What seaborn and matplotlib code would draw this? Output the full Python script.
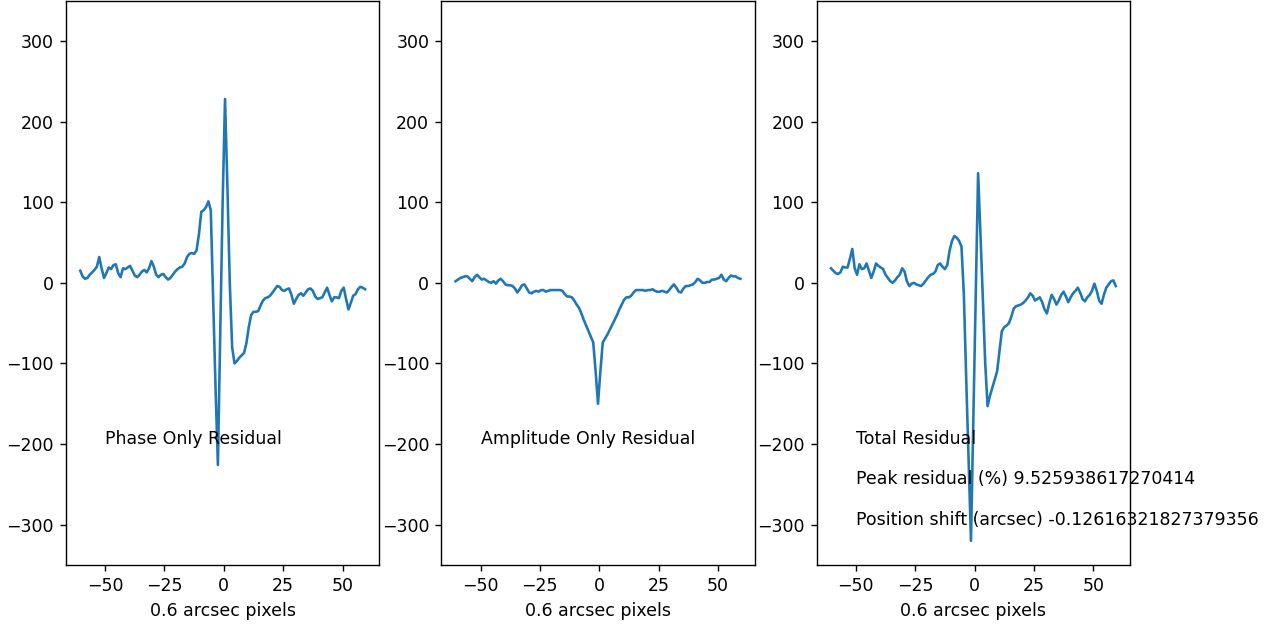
import numpy as np
import pandas as pd
import matplotlib
matplotlib.use("Agg")
import matplotlib.pyplot as plt
import seaborn as sns

# ---- data ----
pixels = list(np.arange(-60.5, 60.0, 1.0))   # 121 pixel centres

phase_residual = [
    15, 8, 5, 6, 10, 13, 16, 20, 32, 18,          # -60.5..-51.5
    6, 12, 19, 17, 22, 23, 12, 7, 18, 17,
    19, 21, 15, 9, 7, 10, 14, 16, 13, 18,
    27, 20, 10, 7, 10, 11, 7, 4, 6, 10,
    14, 17, 19, 20, 24, 32, 36, 37, 36, 40,
    60, 88, 90, 94, 101, 90, -20, -130, -226, -60,   # -10.5..-1.5
    100, 228, 120, 0, -80, -100, -97, -93, -90, -87, # -0.5..8.5
    -75, -55, -40, -36, -36, -35, -28, -22, -19, -18,
    -16, -12, -8, -4, -5, -9, -10, -8, -7, -15,
    -26, -20, -15, -13, -16, -12, -8, -7, -10, -17,
    -20, -19, -18, -12, -6, -15, -23, -18, -18, -19,
    -10, -6, -20, -33, -25, -16, -14, -8, -5, -6,
    -8,
]

amplitude_residual = [
    2, 4, 6, 7, 8, 8, 5, 2, 7, 10,
    7, 4, 5, 3, 1, 0, 2, -1, 3, 5,
    2, -2, -3, -3, -4, -7, -12, -8, -3, -2,
    -7, -12, -13, -11, -10, -11, -9, -9, -11, -10,
    -9, -9, -9, -9, -9, -10, -14, -17, -17, -18,
    -22, -27, -31, -38, -46, -53, -60, -67, -74, -110,
    -150, -110, -74, -69, -64, -58, -52, -46, -40, -33,
    -27, -21, -18, -18, -16, -12, -9, -9, -9, -9,
    -10, -9, -9, -8, -10, -11, -11, -10, -11, -12,
    -9, -5, -2, -6, -11, -12, -7, -4, -4, -3,
    -2, 1, 5, 3, 0, 0, 1, 1, 4, 4,
    5, 6, 10, 4, 2, 6, 9, 8, 8, 6,
    5,
]

total_residual = [
    18, 15, 12, 11, 13, 20, 19, 19, 30, 42,
    18, 10, 23, 17, 18, 24, 15, 6, 14, 24,
    21, 19, 17, 10, 6, 2, 0, 3, 7, 10,
    18, 14, 2, -4, -1, 0, -2, -3, -4, -1,
    3, 7, 10, 11, 14, 22, 24, 20, 17, 22,
    40, 52, 58, 56, 52, 45, -15, -120, -220, -320,
    -168, -16, 136, 60, -20, -100, -153, -140, -130, -120,
    -110, -85, -60, -55, -53, -50, -42, -32, -29, -28,
    -27, -25, -22, -18, -13, -16, -22, -20, -18, -24,
    -33, -38, -25, -15, -20, -27, -22, -15, -11, -17,
    -24, -18, -13, -10, -6, -12, -20, -23, -18, -15,
    -10, -1, -10, -22, -26, -15, -6, -2, 2, 3,
    -4,
]

panel_titles = ["Phase Only Residual", "Amplitude Only Residual", "Total Residual"]
peak_label = "Peak residual (%) 9.525938617270414"
shift_label = "Position shift (arcsec) -0.12616321827379356"
x_label = "0.6 arcsec pixels"

series = [phase_residual, amplitude_residual, total_residual]
assert all(len(s) == len(pixels) for s in series)

# ---- figure ----
fig, axes = plt.subplots(1, 3, figsize=(1287 / 125, 627 / 125), dpi=125)
fig.subplots_adjust(left=66 / 1287, right=1130 / 1287, bottom=1 - 565 / 627,
                    top=0.999, wspace=62 / 313)

for ax, vals, title in zip(axes, series, panel_titles):
    df = pd.DataFrame({"pixel": pixels, "residual": vals})
    sns.lineplot(data=df, x="pixel", y="residual", ax=ax, color="#1f77b4",
                 linewidth=1.5)
    ax.set_ylim(-350, 350)
    ax.set_xlabel(x_label)
    ax.set_ylabel("")
    ax.text(-50, -200, title)

axes[2].text(-50, -250, peak_label)
axes[2].text(-50, -300, shift_label)

fig.savefig("out.png", dpi=125)
